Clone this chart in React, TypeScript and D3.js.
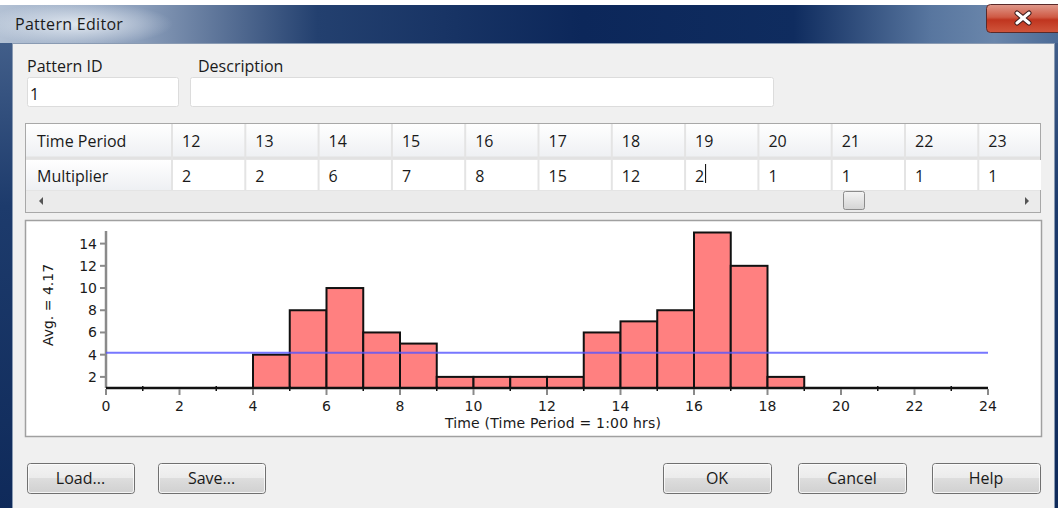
import React from 'react';
import * as d3 from 'd3';

// pattern data: time period (1:00 hr each, 1-based) and its multiplier
const periods = [1, 2, 3, 4, 5, 6, 7, 8, 9, 10, 11, 12, 13, 14, 15, 16, 17, 18, 19, 20, 21, 22, 23, 24];
const multipliers = [1, 1, 1, 1, 4, 8, 10, 6, 5, 2, 2, 2, 2, 6, 7, 8, 15, 12, 2, 1, 1, 1, 1, 1];
const xTicks = [0, 2, 4, 6, 8, 10, 12, 14, 16, 18, 20, 22, 24];
const xMinor = [1, 3, 5, 7, 9, 11, 13, 15, 17, 19, 21, 23];
const yTicks = [2, 4, 6, 8, 10, 12, 14];
const visiblePeriods = [12, 13, 14, 15, 16, 17, 18, 19, 20, 21, 22, 23]; // grid scrolled to here
const editingPeriod = 19;

const W = 1058;
const H = 508;
const uiFont = '"Open Sans", "Noto Sans", sans-serif';
const chartFont = '"DejaVu Sans", Verdana, sans-serif';

const Button = ({ x, w, label }: { x: number; w: number; label: string }) => (
  <g>
    <rect x={x + 0.5} y={463.5} width={w} height={30} rx={3} fill="url(#btnGrad)" stroke="#707070" />
    <rect x={x + 1.5} y={464.5} width={w - 2} height={28} rx={2} fill="none" stroke="#fcfcfc" strokeOpacity={0.8} />
    <text x={x + w / 2} y={484} textAnchor="middle" fontFamily={uiFont} fontSize={16} fill="#1a1a1a">{label}</text>
  </g>
);

const App = () => {
  const x = d3.scaleLinear().domain([0, 24]).range([106, 988]);
  const y = d3.scaleLinear().domain([1, 15]).range([388, 232.5]);
  const avg = d3.mean(multipliers) as number;
  const valueOf = (p: number) => multipliers[periods.indexOf(p)];

  const col = d3.scaleBand<number>().domain(visiblePeriods).range([172, 172 + visiblePeriods.length * 73.3]);

  return (
    <svg width={W} height={H} style={{ position: 'fixed', left: 0, top: 0 }}>
      <defs>
        <linearGradient id="titleGrad" x1="0" x2="1" y1="0" y2="0">
          <stop offset="0" stopColor="#b3c1d4" />
          <stop offset="0.13" stopColor="#8c9fbb" />
          <stop offset="0.3" stopColor="#23406f" />
          <stop offset="0.55" stopColor="#0c275a" />
          <stop offset="0.75" stopColor="#0f2c5f" />
          <stop offset="0.88" stopColor="#58769f" />
          <stop offset="0.94" stopColor="#6a86ab" />
          <stop offset="1" stopColor="#4b6a96" />
        </linearGradient>
        <linearGradient id="frameGrad" x1="0" x2="0" y1="0" y2="1">
          <stop offset="0" stopColor="#4a6690" />
          <stop offset="0.4" stopColor="#1d3b6c" />
          <stop offset="1" stopColor="#0f2a5a" />
        </linearGradient>
        <linearGradient id="closeGrad" x1="0" x2="0" y1="0" y2="1">
          <stop offset="0" stopColor="#e09a8c" />
          <stop offset="0.45" stopColor="#cf5a45" />
          <stop offset="0.55" stopColor="#c0351f" />
          <stop offset="1" stopColor="#d0563c" />
        </linearGradient>
        <linearGradient id="btnGrad" x1="0" x2="0" y1="0" y2="1">
          <stop offset="0" stopColor="#f3f3f3" />
          <stop offset="0.5" stopColor="#ebebeb" />
          <stop offset="0.5" stopColor="#dddddd" />
          <stop offset="1" stopColor="#d0d0d0" />
        </linearGradient>
        <linearGradient id="hdrGrad" x1="0" x2="0" y1="0" y2="1">
          <stop offset="0" stopColor="#ffffff" />
          <stop offset="1" stopColor="#eef0f3" />
        </linearGradient>
        <linearGradient id="thumbGrad" x1="0" x2="0" y1="0" y2="1">
          <stop offset="0" stopColor="#f4f4f4" />
          <stop offset="1" stopColor="#d4d4d4" />
        </linearGradient>
        <radialGradient id="glow" cx="0.5" cy="0.5" r="0.5">
          <stop offset="0" stopColor="#e8eef5" stopOpacity={0.9} />
          <stop offset="1" stopColor="#e8eef5" stopOpacity={0} />
        </radialGradient>
        <clipPath id="gridClip">
          <rect x={25} y={123} width={1016} height={90} />
        </clipPath>
      </defs>

      {/* window frame */}
      <rect x={0} y={0} width={W} height={H} fill="#ffffff" />
      <rect x={0} y={5} width={W} height={H - 5} fill="url(#frameGrad)" />
      <rect x={0} y={5} width={W} height={38} fill="url(#titleGrad)" />
      <ellipse cx={78} cy={24} rx={95} ry={22} fill="url(#glow)" />
      <text x={15} y={30} fontFamily={uiFont} fontSize={16} fill="#1b1b1b" letterSpacing={0.3}>Pattern Editor</text>
      <rect x={986.5} y={4.5} width={76} height={28} rx={4} fill="url(#closeGrad)" stroke="#5a2a2a" />
      <g stroke="#3a1a1a" strokeWidth={5} strokeLinecap="round">
        <line x1={1017} y1={13} x2={1029} y2={23} />
        <line x1={1029} y1={13} x2={1017} y2={23} />
      </g>
      <g stroke="#ffffff" strokeWidth={3} strokeLinecap="round">
        <line x1={1017} y1={13} x2={1029} y2={23} />
        <line x1={1029} y1={13} x2={1017} y2={23} />
      </g>

      {/* dialog body */}
      <rect x={12.5} y={43.5} width={1042} height={H} fill="#f0f0f0" stroke="#8a9bb3" />

      {/* id / description fields */}
      <text x={27} y={72} fontFamily={uiFont} fontSize={16} fill="#1a1a1a">Pattern ID</text>
      <text x={198} y={72} fontFamily={uiFont} fontSize={16} fill="#1a1a1a">Description</text>
      <rect x={27.5} y={77.5} width={151} height={29} rx={2} fill="#ffffff" stroke="#dcdcdc" />
      <rect x={190.5} y={77.5} width={583} height={29} rx={2} fill="#ffffff" stroke="#dcdcdc" />
      <text x={30} y={100} fontFamily={uiFont} fontSize={16} fill="#1a1a1a">1</text>

      {/* data grid */}
      <rect x={25.5} y={123.5} width={1015} height={89} fill="#e9e9e9" stroke="#a8a8a8" />
      <g clipPath="url(#gridClip)" fontFamily={uiFont} fontSize={16} fill="#1a1a1a">
        <rect x={26} y={124} width={1014} height={33} fill="url(#hdrGrad)" />
        <rect x={26} y={160} width={146} height={30} fill="url(#hdrGrad)" />
        <rect x={172} y={160} width={870} height={30} fill="#ffffff" />
        <line x1={26} x2={1040} y1={158} y2={158} stroke="#e2e2e2" strokeWidth={3} />
        <line x1={26} x2={1040} y1={190.5} y2={190.5} stroke="#e4e4e4" />
        {[172, ...visiblePeriods.map(p => (col(p) as number) + col.bandwidth())].map(cx => (
          <line key={cx} x1={cx} x2={cx} y1={124} y2={190} stroke="#e4e4e4" strokeWidth={2} />
        ))}
        <text x={37} y={147}>Time Period</text>
        <text x={37} y={182}>Multiplier</text>
        {visiblePeriods.map(p => (
          <g key={p}>
            <text x={(col(p) as number) + 10} y={147}>{p}</text>
            <text x={(col(p) as number) + 10} y={182}>{valueOf(p)}</text>
          </g>
        ))}
        {/* edit caret */}
        <line x1={(col(editingPeriod) as number) + 20.5} x2={(col(editingPeriod) as number) + 20.5} y1={164} y2={183} stroke="#000" />
        {/* horizontal scrollbar */}
        <rect x={26} y={191} width={1014} height={21} fill="#ebebeb" />
        <path d="M43,197 L39,201 L43,205 Z" fill="#555" />
        <path d="M1025,197 L1029,201 L1025,205 Z" fill="#555" />
        <rect x={843.5} y={191.5} width={21} height={18} rx={2} fill="url(#thumbGrad)" stroke="#8c8c8c" />
      </g>

      {/* chart panel */}
      <rect x={25.5} y={220.5} width={1016} height={216} fill="#ffffff" stroke="#a0a0a0" strokeWidth={1.5} />

      {/* y axis */}
      <line x1={x(0)} x2={x(0)} y1={231} y2={y(1)} stroke="#8a8a8a" strokeWidth={2.5} />
      {yTicks.map(t => (
        <g key={t}>
          <line x1={x(0) - 6} x2={x(0)} y1={y(t)} y2={y(t)} stroke="#8a8a8a" strokeWidth={2} />
          <text x={x(0) - 9} y={y(t) + 5} textAnchor="end" fontFamily={chartFont} fontSize={14} fill="#1a1a1a">{t}</text>
        </g>
      ))}
      <text transform={`translate(53,305) rotate(-90)`} textAnchor="middle" fontFamily={chartFont} fontSize={14} fill="#1a1a1a">
        {`Avg. = ${avg.toFixed(2)}`}
      </text>

      {/* bars: period p spans hours p-1 .. p */}
      {periods.map((p, i) => (
        multipliers[i] > 1 ? (
          <rect key={p} x={x(p - 1)} y={y(multipliers[i])} width={x(p) - x(p - 1)} height={y(1) - y(multipliers[i])}
            fill="#ff8080" stroke="#111" strokeWidth={2} />
        ) : null
      ))}
      <line x1={x(0)} x2={x(24)} y1={y(1)} y2={y(1)} stroke="#111" strokeWidth={2.5} />

      {/* x axis ticks */}
      {xTicks.map(t => (
        <g key={t}>
          <line x1={x(t)} x2={x(t)} y1={y(1) + 1} y2={y(1) + 7} stroke="#8a8a8a" strokeWidth={2} />
          <text x={x(t)} y={411} textAnchor="middle" fontFamily={chartFont} fontSize={14} fill="#1a1a1a">{t}</text>
        </g>
      ))}
      {xMinor.map(t => (
        <line key={t} x1={x(t)} x2={x(t)} y1={y(1) - 2} y2={y(1) + 3} stroke="#111" strokeWidth={1.5} />
      ))}
      <text x={553} y={428} textAnchor="middle" fontFamily={chartFont} fontSize={14} fill="#1a1a1a" letterSpacing={0.2}>
        Time (Time Period = 1:00 hrs)
      </text>

      {/* average line */}
      <line x1={x(0)} x2={x(24)} y1={y(avg)} y2={y(avg)} stroke="#5555ff" strokeOpacity={0.8} strokeWidth={2} />

      {/* buttons */}
      <Button x={27} w={107} label="Load..." />
      <Button x={158} w={107} label="Save..." />
      <Button x={663} w={108} label="OK" />
      <Button x={798} w={108} label="Cancel" />
      <Button x={932} w={108} label="Help" />
    </svg>
  );
};

export default App;
